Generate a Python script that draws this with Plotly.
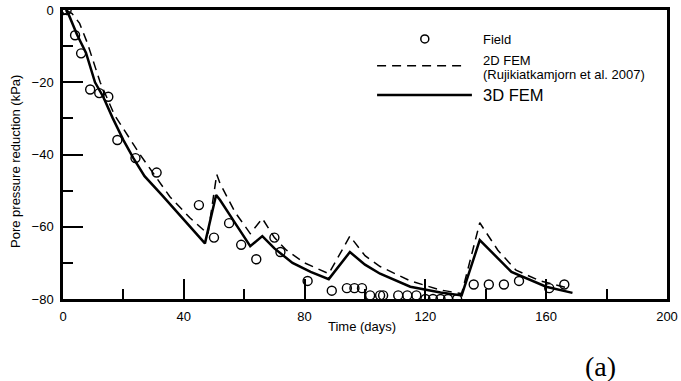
import plotly.graph_objects as go

# Field measurements
field_t = [0, 1.2, 4, 6, 9, 12, 15, 18, 24, 31, 45, 50, 55, 59, 64, 70, 72, 81, 89,
           94, 96.5, 99, 101.7, 105, 106, 111, 114, 117, 120, 122.5, 125, 127.5, 130.5,
           136, 141, 146, 151, 161, 166]
field_p = [0, 0, -7, -12, -22, -23, -24, -36, -41, -45, -54, -63, -59, -65, -69, -63, -67, -75, -77.7,
           -77, -77, -77, -79, -79, -79, -79, -79, -79, -80, -80, -80, -80, -80,
           -76, -76, -76, -75, -77, -76]

# 2D FEM (Rujikiatkamjorn et al. 2007)
fem2d_t = [1, 3, 5.5, 8, 12.3, 17, 25.5, 35.4, 42, 48, 50.9, 52, 57, 62, 66, 70, 74, 80, 88,
           95, 100, 105, 115, 125, 132, 138, 144, 150, 158, 166.5]
fem2d_p = [0, -1, -3.7, -9, -20, -29, -40, -51.7, -57.5, -62, -45.5, -48, -56, -61.9, -57.7, -63, -66.5, -70, -73,
           -62.6, -68, -71, -75, -77.5, -78.5, -58.9, -66.5, -72, -75, -76.8]

# 3D FEM
fem3d_t = [1, 2, 4.7, 7.6, 10.6, 13.3, 16.5, 20, 23.3, 27, 32.7, 40, 47, 50.7, 52, 57, 62, 66, 70, 76, 82, 88,
           95, 100, 105, 115, 125, 132, 138, 148.5, 160, 168.7]
fem3d_p = [0, -1.5, -6.9, -11.8, -20, -24, -30, -36, -41, -46, -51.2, -58, -64.6, -51.2, -52.6, -59, -65.4, -62.6, -66, -70, -72.5, -74.5,
           -67, -70.5, -73, -76.6, -78.2, -79, -63.7, -72.5, -76.6, -78.3]

x_ticks = [0, 40, 80, 120, 160, 200]
x_minor = [20, 60, 100, 140, 180]
y_ticks = [-80, -60, -40, -20, 0]
y_minor = [-70, -50, -30, -10]

FONT = "Liberation Sans, Arial, Helvetica, sans-serif"
DASH = "9px,6px"

fig = go.Figure()
fig.add_trace(go.Scatter(x=fem2d_t, y=fem2d_p, mode="lines", name="2D FEM",
                         line=dict(color="black", width=1.5, dash=DASH)))
fig.add_trace(go.Scatter(x=fem3d_t, y=fem3d_p, mode="lines", name="3D FEM",
                         line=dict(color="black", width=2.5)))
fig.add_trace(go.Scatter(x=field_t, y=field_p, mode="markers", name="Field",
                         marker=dict(symbol="circle-open", size=9, color="black",
                                     line=dict(width=1.4, color="black"))))

axis_common = dict(showgrid=False, zeroline=False, showline=True, linecolor="black",
                   linewidth=2.5, mirror=True, ticks="inside", tickcolor="black",
                   tickwidth=2, ticklen=20, automargin=False,
                   tickfont=dict(family=FONT, size=13, color="black"))

fig.update_xaxes(range=[0, 200], tickvals=x_ticks, ticklabelstandoff=4, **axis_common,
                 minor=dict(ticks="inside", ticklen=10, tickwidth=1.5, tickcolor="black",
                            tickvals=x_minor))
fig.update_yaxes(range=[-80, 0], tickvals=y_ticks, ticklabelstandoff=4, **axis_common,
                 minor=dict(ticks="inside", ticklen=10, tickwidth=2, tickcolor="black",
                            tickvals=y_minor))

# Manual legend (symbols as shapes, text as annotations), in plot-domain fractions
PW, PH = 604.0, 289.0
cx, cy, r = 0.599, 0.900, 4.0
fig.add_shape(type="circle", xref="x domain", yref="y domain",
              x0=cx - r / PW, x1=cx + r / PW, y0=cy - r / PH, y1=cy + r / PH,
              line=dict(color="black", width=1.5), fillcolor="rgba(0,0,0,0)")
fig.add_shape(type="line", xref="x domain", yref="y domain",
              x0=0.520, x1=0.669, y0=0.807, y1=0.807,
              line=dict(color="black", width=1.5, dash=DASH))
fig.add_shape(type="line", xref="x domain", yref="y domain",
              x0=0.520, x1=0.677, y0=0.706, y1=0.706,
              line=dict(color="black", width=2.5))

anns = [
    dict(text="Field", y=0.897, size=13),
    dict(text="2D FEM", y=0.826, size=13),
    dict(text="(Rujikiatkamjorn et al. 2007)", y=0.776, size=13),
    dict(text="3D FEM", y=0.707, size=16.5),
]
for a in anns:
    fig.add_annotation(text=a["text"], x=0.692, y=a["y"], xref="x domain", yref="y domain",
                       xanchor="left", yanchor="middle", showarrow=False,
                       font=dict(family=FONT, size=a["size"], color="black"))

fig.add_annotation(text="Pore pressure reduction (kPa)", textangle=-90,
                   x=(15 - 63) / PW, y=(299 - 162) / PH,
                   xref="x domain", yref="y domain", showarrow=False,
                   xanchor="center", yanchor="middle",
                   font=dict(family=FONT, size=13, color="black"))
fig.add_annotation(text="Time (days)", x=(362 - 63) / PW, y=(299 - 326) / PH,
                   xref="x domain", yref="y domain", showarrow=False,
                   xanchor="center", yanchor="middle",
                   font=dict(family=FONT, size=13, color="black"))
fig.add_annotation(text="(a)", x=(600 - 63) / PW, y=(299 - 366) / PH,
                   xref="x domain", yref="y domain", showarrow=False,
                   xanchor="center", yanchor="middle",
                   font=dict(family="Liberation Serif, Times New Roman, serif", size=28, color="black"))

fig.update_layout(
    width=681, height=381,
    margin=dict(l=63, r=14, t=10, b=82, autoexpand=False),
    paper_bgcolor="white", plot_bgcolor="white",
    showlegend=False,
)

fig.write_html("out.html")
